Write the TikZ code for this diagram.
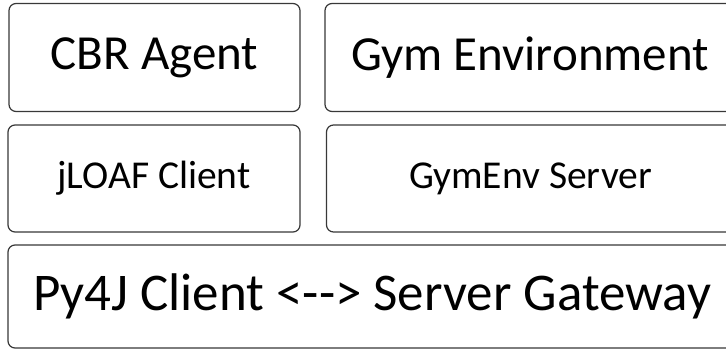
\documentclass[tikz,border=0pt]{standalone}
\usepackage{fontspec}
\setmainfont{Carlito}
\begin{document}
\begin{tikzpicture}[x=1pt,y=1pt,
  box/.style={draw=black!78, line width=1.2pt, rounded corners=7pt, fill=white, inner sep=0pt, anchor=center},
  big/.style={font=\fontsize{49}{56}\selectfont},
  huge/.style={font=\fontsize{53}{60}\selectfont},
  small/.style={font=\fontsize{39.5}{46}\selectfont}]
\useasboundingbox (0,0) rectangle (726,351);
\clip (0,0) rectangle (726,351);
% row 1
\node[box, big, minimum width=291pt, minimum height=108pt] (cbr) at (154.5,293.5) {CBR Agent};
\node[box, big, minimum width=410pt, minimum height=108pt] (gym) at (530,293.5) {Gym Environment};
% row 2
\node[box, small, minimum width=292pt, minimum height=107pt] (jloaf) at (154,172.5) {jLOAF Client};
\node[box, small, minimum width=408pt, minimum height=107pt] (server) at (530.5,172.5) {GymEnv Server};
% row 3
\node[box, huge, minimum width=728pt, minimum height=103pt] (py4j) at (372,54.5) {Py4J Client <{-}{-}> Server Gateway};
\end{tikzpicture}
\end{document}
